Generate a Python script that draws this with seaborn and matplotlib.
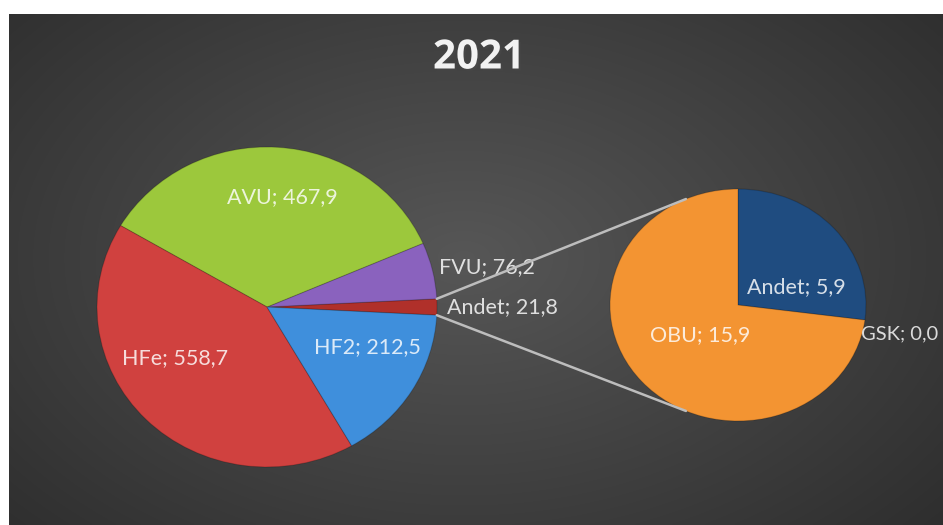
import numpy as np
import matplotlib
matplotlib.use("Agg")
import matplotlib.pyplot as plt
from matplotlib.patches import ConnectionPatch
import matplotlib.patheffects as pe
import seaborn as sns

# ---- data ----
title = "2021"
main_labels = ["Andet", "FVU", "AVU", "HFe", "HF2"]
main_values = [21.8, 76.2, 467.9, 558.7, 212.5]
sub_labels = ["Andet", "GSK", "OBU"]
sub_values = [5.9, 0.0, 15.9]

main_colors = ["#B0302A", "#8A62BE", "#9CC83C", "#D0413F", "#3F8FDC"]
sub_colors = ["#1F4C80", "#F39432", "#F39432"]

sns.set_theme(style="dark")
plt.rcParams["font.family"] = ["Lato", "DejaVu Sans"]

W, H = 943, 525
fig = plt.figure(figsize=(W / 100, H / 100), dpi=100, facecolor="white")

# background panel with radial gradient
bg = fig.add_axes([9 / W, 0, (W - 9) / W, (H - 14) / H])
bg.set_axis_off()
yy, xx = np.mgrid[0:200, 0:360]
cx, cy = 175, 95
d = np.sqrt(((xx - cx) / 260.0) ** 2 + ((yy - cy) / 170.0) ** 2)
g = np.clip(0.34 - 0.17 * d, 0.16, 0.34)
bg.imshow(np.dstack([g, g, g]), extent=[0, 1, 0, 1], aspect="auto", origin="upper",
          interpolation="bilinear")
bg.set_xlim(0, 1)
bg.set_ylim(0, 1)

def fmt(v):
    return f"{v:.1f}".replace(".", ",")

def make_axes(cx, cy, rx, ry):
    w, h = 2.2 * rx, 2.2 * ry
    ax = fig.add_axes([(cx - w / 2) / W, (H - cy - h / 2) / H, w / W, h / H])
    ax.set_axis_off()
    return ax

label_props = dict(color="white", fontsize=15.5, alpha=0.82)

# main pie
ax1 = make_axes(267, 307, 170, 160)
start = -main_values[0] / sum(main_values) * 360 / 2
w1, t1 = ax1.pie(main_values, labels=[f"{l}; {fmt(v)}" for l, v in zip(main_labels, main_values)],
                 colors=main_colors, startangle=start, counterclock=True,
                 wedgeprops=dict(edgecolor=(0, 0, 0, 0.18), linewidth=0.8),
                 textprops=label_props)
ax1.set_xlim(-1.1, 1.1)
ax1.set_ylim(-1.1, 1.1)
ax1.set_aspect("auto")

main_layout = [(1.06, 0, "left"), (1.04, 14, "left"), (0.69, 82.5, "center"),
               (0.63, 210.6, "center"), (0.64, -23, "center")]
for t, (r, a, ha) in zip(t1, main_layout):
    t.set_position((r * np.cos(np.radians(a)), r * np.sin(np.radians(a))))
    t.set_ha(ha)
    t.set_va("center")

# secondary pie
ax2 = make_axes(738, 305, 128, 116)
w2, t2 = ax2.pie(sub_values, labels=[f"{l}; {fmt(v)}" for l, v in zip(sub_labels, sub_values)],
                 colors=sub_colors, startangle=90, counterclock=False,
                 wedgeprops=dict(edgecolor=(0, 0, 0, 0.18), linewidth=0.8),
                 textprops=label_props)
ax2.set_xlim(-1.1, 1.1)
ax2.set_ylim(-1.1, 1.1)
ax2.set_aspect("auto")
for w in w2:
    if w.theta2 - w.theta1 < 1e-6:
        w.set_visible(False)

sub_layout = [(0.485, 18.6, "center"), (0.99, -14.5, "left"), (0.39, 221, "center")]
for t, (r, a, ha) in zip(t2, sub_layout):
    t.set_position((r * np.cos(np.radians(a)), r * np.sin(np.radians(a))))
    t.set_ha(ha)
    t.set_va("center")
t2[1].set_fontsize(14.5)

# connector lines
other = w1[0]
for th_main, th_sub in [(other.theta2, 114), (other.theta1, -114)]:
    p1 = (np.cos(np.radians(th_main)), np.sin(np.radians(th_main)))
    p2 = (np.cos(np.radians(th_sub)), np.sin(np.radians(th_sub)))
    con = ConnectionPatch(xyA=p1, coordsA=ax1.transData, xyB=p2, coordsB=ax2.transData,
                          color="#BDBDBD", linewidth=1.8)
    fig.add_artist(con)

fig.text(479 / W, 1 - 58 / H, title, ha="center", va="center", fontsize=29,
         fontweight="bold", color="#F2F2F2", family=["Open Sans", "DejaVu Sans"],
         path_effects=[pe.withSimplePatchShadow(offset=(1.5, -1.5), alpha=0.5)])

fig.savefig("out.png", dpi=100, facecolor="white")
